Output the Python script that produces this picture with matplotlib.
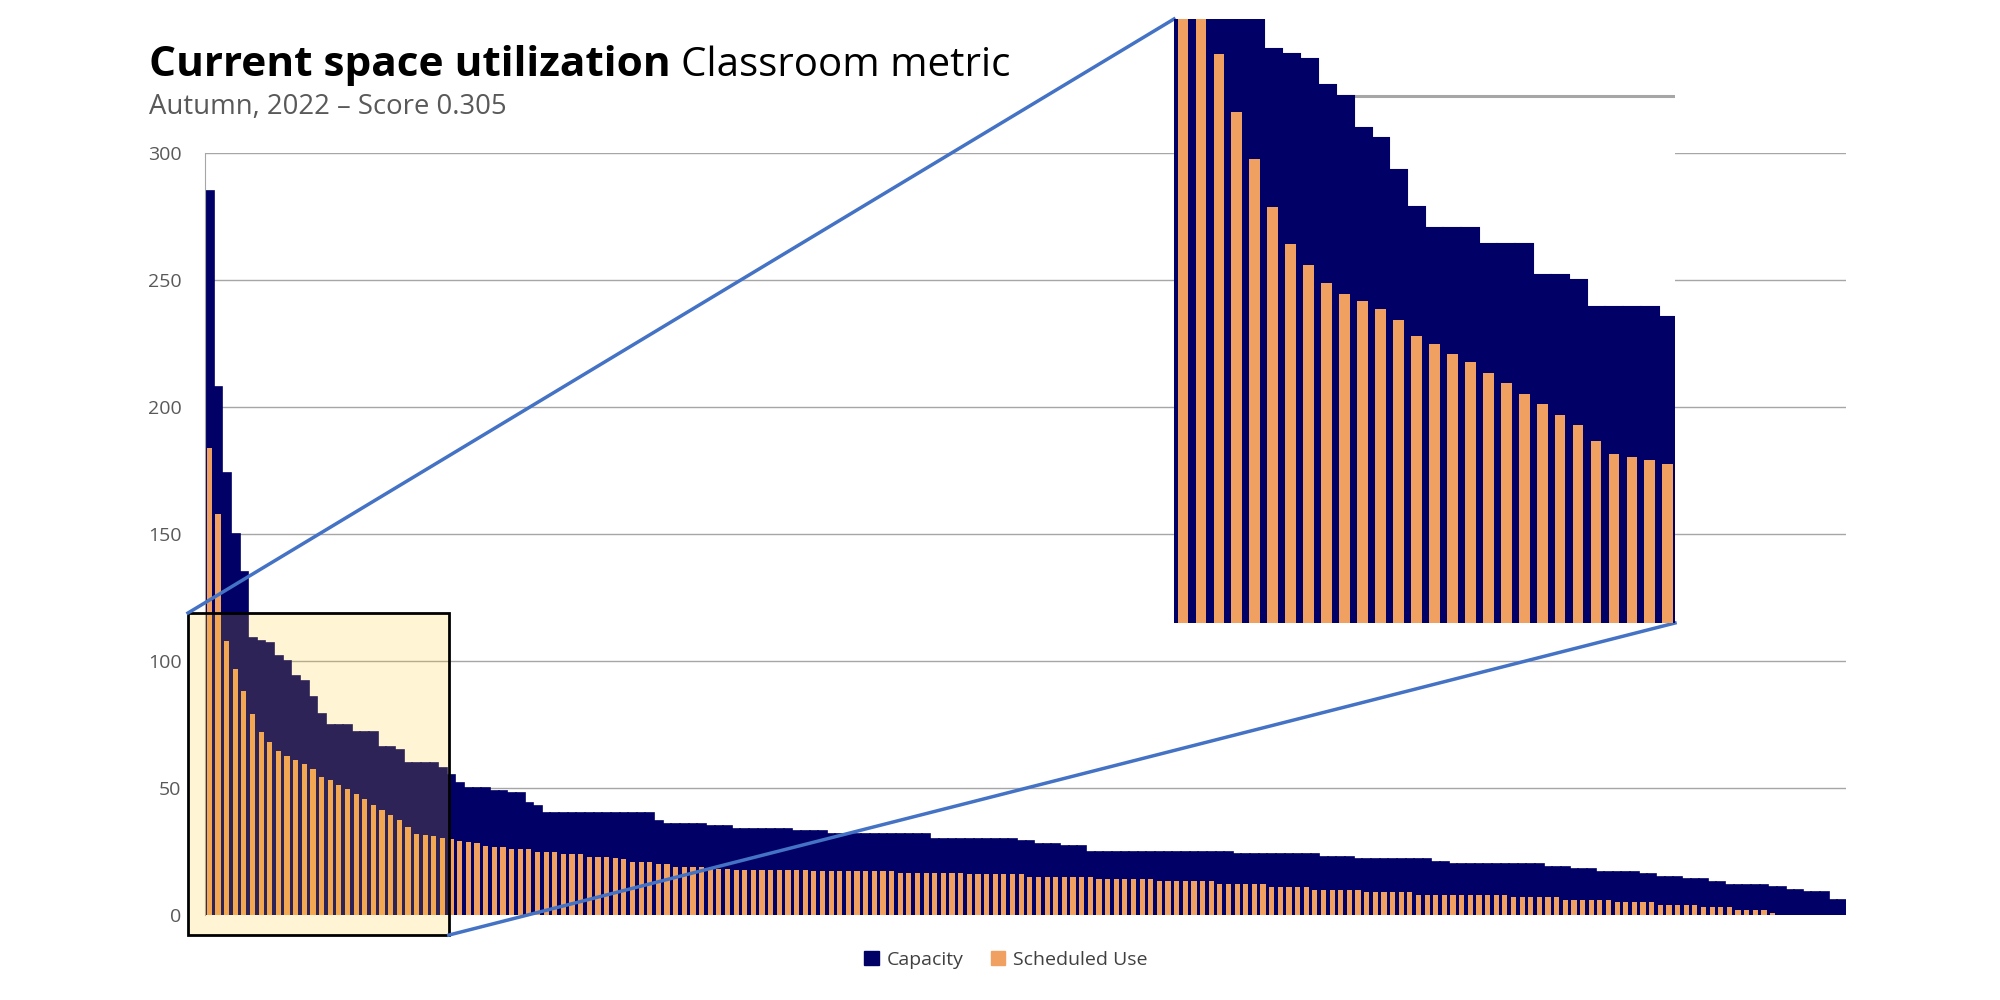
import matplotlib
matplotlib.use("Agg")
import matplotlib.pyplot as plt
from matplotlib.patches import Rectangle, Patch
from matplotlib.lines import Line2D

plt.rcParams['font.family'] = ['Open Sans', 'DejaVu Sans']

# capacity of each room, sorted high to low
capacity = [
    285, 208, 174, 150, 135, 109, 108, 107, 102, 100,
    94, 92, 86, 79, 75, 75, 75, 72, 72, 72,
    66, 66, 65, 60, 60, 60, 60, 58, 55, 52,
    50, 50, 50, 49, 49, 48, 48, 44, 43, 40,
    40, 40, 40, 40, 40, 40, 40, 40, 40, 40,
    40, 40, 37, 36, 36, 36, 36, 36, 35, 35,
    35, 34, 34, 34, 34, 34, 34, 34, 33, 33,
    33, 33, 32, 32, 32, 32, 32, 32, 32, 32,
    32, 32, 32, 32, 30, 30, 30, 30, 30, 30,
    30, 30, 30, 30, 29, 29, 28, 28, 28, 27,
    27, 27, 25, 25, 25, 25, 25, 25, 25, 25,
    25, 25, 25, 25, 25, 25, 25, 25, 25, 24,
    24, 24, 24, 24, 24, 24, 24, 24, 24, 23,
    23, 23, 23, 22, 22, 22, 22, 22, 22, 22,
    22, 22, 21, 21, 20, 20, 20, 20, 20, 20,
    20, 20, 20, 20, 20, 19, 19, 19, 18, 18,
    18, 17, 17, 17, 17, 17, 16, 16, 15, 15,
    15, 14, 14, 14, 13, 13, 12, 12, 12, 12,
    12, 11, 11, 10, 10, 9, 9, 9, 6, 6,
]

# scheduled use of each room
scheduled = [
    184, 158, 108, 97, 88, 79, 72, 68, 64.5, 62.5,
    61, 59.5, 57.5, 54.5, 53, 51, 49.5, 47.5, 45.5, 43.5,
    41.5, 39.5, 37.5, 34.5, 32, 31.5, 31, 30.2, 29.9, 29.1,
    28.9, 28.3, 27.2, 26.9, 26.9, 26, 26, 26, 24.9, 24.8,
    24.8, 24, 23.9, 23.9, 23, 22.9, 22.7, 22.3, 21.9, 21,
    21, 20.7, 20, 20, 19, 18.9, 18.9, 18.9, 18.2, 18.2,
    18.2, 17.8, 17.8, 17.8, 17.8, 17.8, 17.8, 17.8, 17.8, 17.8,
    17.2, 17.2, 17.2, 17.2, 17.2, 17.2, 17.2, 17.2, 17.2, 17.2,
    16.6, 16.6, 16.6, 16.6, 16.6, 16.6, 16.6, 16.6, 16, 16,
    16, 16, 16, 16, 16, 15.1, 15.1, 15.1, 15.1, 15.1,
    15.1, 15.1, 15.1, 14.1, 14.1, 14.1, 14.1, 14.1, 14.1, 14.1,
    13.2, 13.2, 13.2, 13.2, 13.2, 13.2, 13.2, 12.2, 12.2, 12.2,
    12.2, 12.2, 12.2, 11.2, 11.2, 11.2, 11.2, 11.2, 9.9, 9.9,
    9.9, 9.9, 9.9, 9.9, 8.9, 8.9, 8.9, 8.9, 8.9, 8.9,
    7.9, 7.9, 7.9, 7.9, 7.9, 7.9, 7.9, 7.9, 7.9, 7.9,
    7.9, 6.9, 6.9, 6.9, 6.9, 6.9, 6.9, 5.9, 5.9, 5.9,
    5.9, 5.9, 5.9, 5.0, 5.0, 5.0, 5.0, 5.0, 4.0, 4.0,
    4.0, 4.0, 4.0, 3.0, 3.0, 3.0, 3.0, 2.0, 2.0, 2.0,
    2.0, 0.9, 0, 0, 0, 0, 0, 0, 0, 0,
]

y_ticks = [0, 50, 100, 150, 200, 250, 300]
series_names = ["Capacity", "Scheduled Use"]

navy = '#000066'
orange = '#F0A060'
grid = '#a6a6a6'

rooms = list(range(len(capacity)))

fig = plt.figure(figsize=(20, 10), dpi=100)

# main chart
ax = fig.add_axes([0.1025, 0.085, 0.8205, 0.762])
ax.bar(rooms, capacity, width=1.0, color=navy, edgecolor=navy, linewidth=1.2, zorder=2)
ax.bar(rooms, scheduled, width=0.6, color=orange, linewidth=0, zorder=3)
ax.set_xlim(-0.5, len(rooms) - 0.5)
ax.set_ylim(0, 300)
ax.set_yticks(y_ticks)
ax.set_yticklabels([str(t) for t in y_ticks])
ax.set_xticks([])
ax.tick_params(axis='y', length=0, pad=17, labelsize=14, labelcolor='#595959')
ax.grid(axis='y', color=grid, linewidth=1, zorder=0)
ax.set_axisbelow(True)
for s in ['top', 'right', 'bottom']:
    ax.spines[s].set_visible(False)
ax.spines['left'].set_color(grid)

# highlight box on the first rooms
bx0, by0, bx1, by1 = -2.47, -7.9, 27.73, 118.9
box = Rectangle((bx0, by0), bx1 - bx0, by1 - by0, facecolor=(1.0, 0.78, 0.08, 0.18),
                edgecolor='black', linewidth=2, clip_on=False, zorder=5)
ax.add_patch(box)

# zoomed inset
axins = fig.add_axes([0.587, 0.377, 0.2505, 0.604])
axins.set_zorder(3)
axins.set_facecolor('white')
axins.bar(rooms, capacity, width=1.0, color=navy, edgecolor=navy, linewidth=1.5, zorder=2)
axins.bar(rooms, scheduled, width=0.6, color=orange, linewidth=0, zorder=3)
axins.set_xlim(-0.5, 27.4)
axins.set_ylim(0, 114.6)
axins.set_yticks([50, 100])
axins.set_xticks([])
axins.tick_params(axis='y', length=0, labelleft=False)
axins.grid(axis='y', color=grid, linewidth=2.2, zorder=0)
axins.set_axisbelow(True)
for s in axins.spines.values():
    s.set_visible(False)

# connector lines from the box corners to the inset corners
to_fig = fig.transFigure.inverted()
ins_pos = axins.get_position()
a1 = to_fig.transform(ax.transData.transform((bx0, by1)))
a2 = to_fig.transform(ax.transData.transform((bx1, by0)))
for pa, pb in [(a1, (ins_pos.x0, ins_pos.y1)), (a2, (ins_pos.x1, ins_pos.y0))]:
    fig.add_artist(Line2D([pa[0], pb[0]], [pa[1], pb[1]], transform=fig.transFigure,
                          color='#4472C4', linewidth=2.5, zorder=2))

# titles
t1 = fig.text(0.0745, 0.924, "Current space utilization", fontsize=30.5,
              fontweight='bold', color='black', va='baseline')
fig.canvas.draw()
bb = t1.get_window_extent()
fig.text(bb.x1 / fig.bbox.width + 0.005, 0.924, "Classroom metric", fontsize=29,
         color='black', va='baseline')
fig.text(0.0745, 0.886, "Autumn, 2022 \u2013 Score 0.305", fontsize=19.8,
         color='#595959', va='baseline')

handles = [Patch(color=navy), Patch(color=orange)]
fig.legend(handles, series_names, loc='center', bbox_to_anchor=(0.503, 0.04), ncol=2,
           frameon=False, fontsize=14, handlelength=0.75, handleheight=0.75,
           handletextpad=0.4, columnspacing=1.4, labelcolor='#404040')

fig.savefig('out.png', dpi=100)
